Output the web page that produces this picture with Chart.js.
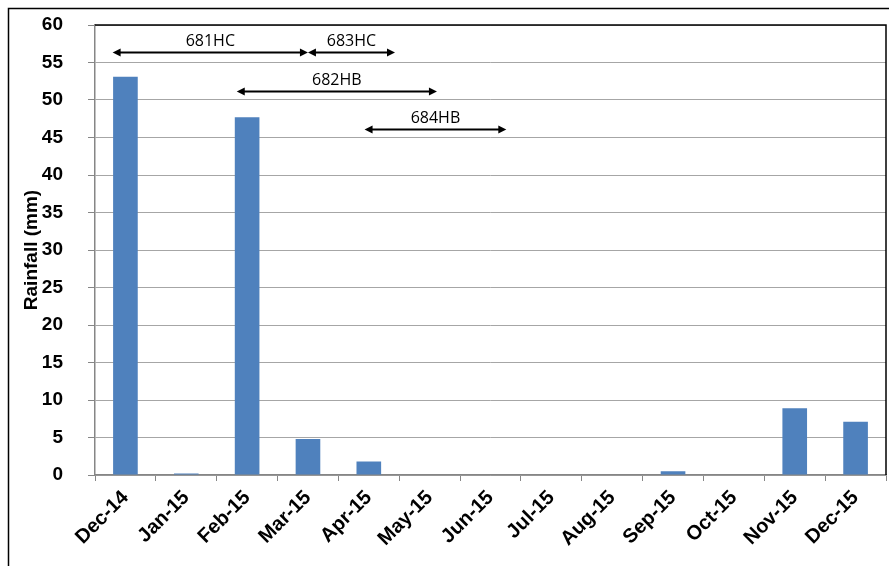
<!DOCTYPE html>
<html>
<head>
<meta charset="utf-8">
<script src="https://cdn.jsdelivr.net/npm/chart.js@4.4.1/dist/chart.umd.min.js"></script>
<style>
  html, body { margin: 0; padding: 0; background: #fff; }
  #wrap { width: 889px; height: 566px; position: relative; }
</style>
</head>
<body>
<div id="wrap"><canvas id="rainChart"></canvas></div>
<script>
// monthly rainfall
const months = ['Dec-14', 'Jan-15', 'Feb-15', 'Mar-15', 'Apr-15', 'May-15', 'Jun-15',
                'Jul-15', 'Aug-15', 'Sep-15', 'Oct-15', 'Nov-15', 'Dec-15'];
const rainfall = [53.1, 0.2, 47.7, 4.8, 1.8, 0, 0, 0, 0, 0.5, 0, 8.9, 7.1];
const yTicks = [0, 5, 10, 15, 20, 25, 30, 35, 40, 45, 50, 55, 60];

// sampling periods (arrows), start/end given as month index
const periodLabels = ['681HC', '683HC', '682HB', '684HB'];
const periodStart = [-0.21, 3.0, 1.83, 3.93];
const periodEnd = [3.0, 4.43, 5.12, 6.26];
const periodLevel = [56.4, 56.4, 51.2, 46.2];

const axisFont = { family: 'Liberation Sans, Arial', size: 19, weight: 'bold' };

// frame + plot border + period arrows
const decorPlugin = {
  id: 'decor',
  afterDraw(chart) {
    const ctx = chart.ctx;
    const area = chart.chartArea;
    const x = chart.scales.x;
    const y = chart.scales.y;
    ctx.save();

    // outer frame
    ctx.strokeStyle = '#000';
    ctx.lineWidth = 1.5;
    ctx.beginPath();
    ctx.moveTo(8.5, 566);
    ctx.lineTo(8.5, 8.5);
    ctx.lineTo(889, 8.5);
    ctx.stroke();

    // top and right border of plot
    ctx.beginPath();
    ctx.moveTo(area.left, area.top);
    ctx.lineTo(area.right, area.top);
    ctx.lineTo(area.right, area.bottom);
    ctx.stroke();

    // arrows
    ctx.fillStyle = '#000';
    ctx.lineWidth = 2;
    ctx.font = '16px "Open Sans"';
    ctx.textAlign = 'center';
    ctx.textBaseline = 'middle';
    periodLabels.forEach((lab, i) => {
      const x0 = x.getPixelForValue(periodStart[i]);
      const x1 = x.getPixelForValue(periodEnd[i]);
      const py = Math.round(y.getPixelForValue(periodLevel[i])) + 0.5;
      ctx.beginPath();
      ctx.moveTo(x0 + 4, py);
      ctx.lineTo(x1 - 4, py);
      ctx.stroke();
      // heads
      ctx.beginPath();
      ctx.moveTo(x0, py);
      ctx.lineTo(x0 + 8, py - 4);
      ctx.lineTo(x0 + 8, py + 4);
      ctx.closePath();
      ctx.fill();
      ctx.beginPath();
      ctx.moveTo(x1, py);
      ctx.lineTo(x1 - 8, py - 4);
      ctx.lineTo(x1 - 8, py + 4);
      ctx.closePath();
      ctx.fill();
      ctx.fillText(lab, (x0 + x1) / 2, py - 11);
    });
    ctx.restore();
  }
};

const ctx = document.getElementById('rainChart').getContext('2d');
new Chart(ctx, {
  type: 'bar',
  data: {
    labels: months,
    datasets: [{
      label: 'Rainfall (mm)',
      data: rainfall,
      backgroundColor: '#4f81bd',
      borderWidth: 0,
      barPercentage: 0.405,
      categoryPercentage: 1.0
    }]
  },
  options: {
    responsive: true,
    maintainAspectRatio: false,
    animation: false,
    layout: { padding: { top: 25, right: 3, left: 0, bottom: 0 } },
    plugins: {
      legend: { display: false },
      tooltip: { enabled: false }
    },
    scales: {
      x: {
        afterFit: (s) => {
          s.height = 91;
          s.paddingLeft = 0;
          s.paddingRight = 0;
        },
        grid: {
          offset: true,
          drawOnChartArea: false,
          drawTicks: true,
          tickLength: 6,
          tickColor: '#868686'
        },
        border: { color: '#868686', width: 1.5 },
        ticks: {
          color: '#000',
          font: { family: 'Liberation Sans, Arial', size: 20, weight: 'bold' },
          minRotation: 45,
          maxRotation: 45,
          autoSkip: false,
          padding: 5
        }
      },
      y: {
        min: 0,
        max: 60,
        afterFit: (s) => {
          s.width = 95;
          s.paddingTop = 0;
          s.paddingBottom = 0;
        },
        afterBuildTicks: (s) => { s.ticks = yTicks.map(v => ({ value: v })); },
        grid: {
          color: '#a6a6a6',
          tickLength: 7,
          tickColor: '#868686'
        },
        border: { color: '#868686', width: 1.5 },
        ticks: {
          color: '#000',
          font: axisFont,
          padding: 25
        },
        title: {
          display: true,
          text: 'Rainfall (mm)',
          color: '#000',
          font: axisFont,
          padding: { top: 20, bottom: 0 }
        }
      }
    }
  },
  plugins: [decorPlugin]
});
</script>
</body>
</html>
